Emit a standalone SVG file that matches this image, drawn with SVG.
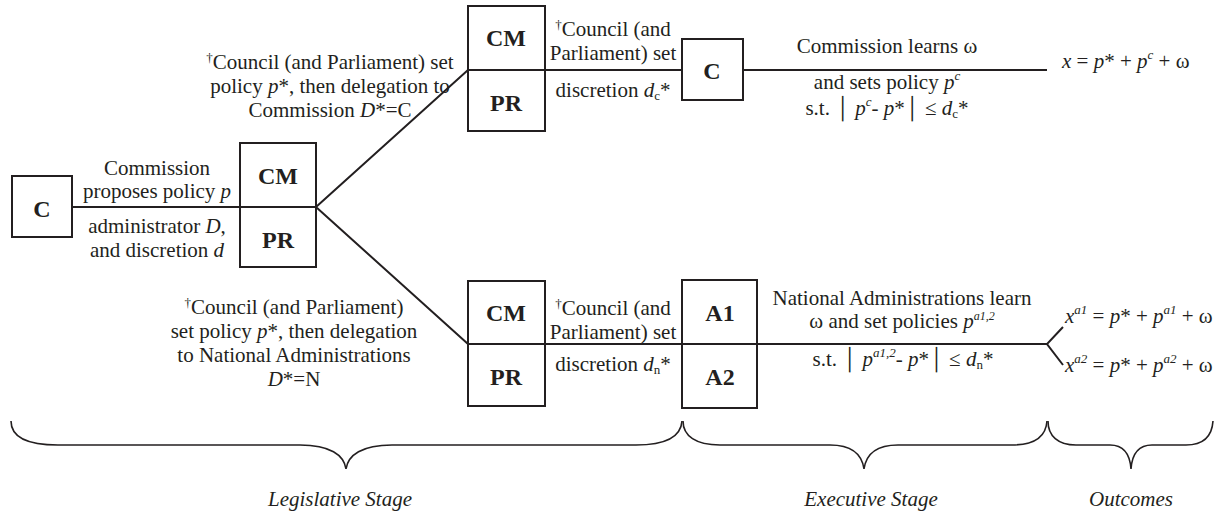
<svg xmlns="http://www.w3.org/2000/svg" width="1220" height="517" viewBox="0 0 1220 517">
<style>
text{font-family:"Liberation Serif","Times New Roman",serif;font-size:21px;fill:#231f20}
.m{text-anchor:middle}
.b{font-weight:bold;font-size:24px;text-anchor:middle}
.i{font-style:italic}
.box{fill:#fff;stroke:#231f20;stroke-width:2}
.ln{fill:none;stroke:#231f20;stroke-width:2}
.br{fill:none;stroke:#231f20;stroke-width:1.6}
.sup{font-size:13px}
.sm{font-size:12px}
</style>
<rect width="1220" height="517" fill="#fff"/>
<g id="connectors">
<path class="ln" d="M72 207H240M316 207L468 70M316 207L468 344M545 70H682M743 70H1047M545 344H682M757 344H1047M1063 327L1047 344L1063 365"/>
</g>
<g id="node-c-start">
<rect class="box" x="12" y="176" width="60" height="61"/>
<text class="b" x="42" y="217">C</text>
</g>
<g id="node-cmpr-1">
<rect class="box" x="240" y="143" width="76" height="124"/>
<line class="ln" x1="240" y1="207" x2="316" y2="207"/>
<text class="b" x="278" y="184">CM</text>
<text class="b" x="278" y="248">PR</text>
</g>
<g id="node-cmpr-top">
<rect class="box" x="468" y="6" width="77" height="125"/>
<line class="ln" x1="468" y1="70" x2="545" y2="70"/>
<text class="b" x="506" y="46">CM</text>
<text class="b" x="506" y="111">PR</text>
</g>
<g id="node-c-top">
<rect class="box" x="682" y="39" width="61" height="61"/>
<text class="b" x="712" y="79">C</text>
</g>
<g id="node-cmpr-bottom">
<rect class="box" x="468" y="281" width="77" height="125"/>
<line class="ln" x1="468" y1="344" x2="545" y2="344"/>
<text class="b" x="506" y="321">CM</text>
<text class="b" x="506" y="385">PR</text>
</g>
<g id="node-a1a2">
<rect class="box" x="682" y="280" width="75" height="128"/>
<line class="ln" x1="682" y1="344" x2="757" y2="344"/>
<text class="b" x="720" y="321">A1</text>
<text class="b" x="720" y="385">A2</text>
</g>
<g id="labels">
<text class="m" x="157" y="175">Commission</text>
<text class="m" x="157" y="198">proposes policy <tspan class="i">p</tspan></text>
<text class="m" x="157" y="233">administrator <tspan class="i">D</tspan>,</text>
<text class="m" x="157" y="257">and discretion <tspan class="i">d</tspan></text>

<text class="m" x="330" y="69"><tspan class="sup" dy="-7">†</tspan><tspan dy="7">Council (and Parliament) set</tspan></text>
<text class="m" x="330" y="93">policy <tspan class="i">p</tspan>*, then delegation to</text>
<text class="m" x="330" y="117">Commission <tspan class="i">D</tspan>*=C</text>

<text class="m" x="294" y="314"><tspan class="sup" dy="-7">†</tspan><tspan dy="7">Council (and Parliament)</tspan></text>
<text class="m" x="294" y="338">set policy <tspan class="i">p</tspan>*, then delegation</text>
<text class="m" x="294" y="362">to National Administrations</text>
<text class="m" x="294" y="386"><tspan class="i">D</tspan>*=N</text>

<text class="m" x="613" y="36"><tspan class="sup" dy="-7">†</tspan><tspan dy="7">Council (and</tspan></text>
<text class="m" x="613" y="60">Parliament) set</text>
<text class="m" x="613" y="97">discretion <tspan class="i">d</tspan><tspan class="sup" dy="3">c</tspan><tspan dy="-3">*</tspan></text>

<text class="m" x="613" y="315"><tspan class="sup" dy="-7">†</tspan><tspan dy="7">Council (and</tspan></text>
<text class="m" x="613" y="339">Parliament) set</text>
<text class="m" x="613" y="371">discretion <tspan class="i">d</tspan><tspan class="sup" dy="3">n</tspan><tspan dy="-3">*</tspan></text>

<text class="m" x="887" y="53">Commission learns ω</text>
<text class="m" x="887" y="89">and sets policy  <tspan class="i">p</tspan><tspan class="sup i" dy="-9">c</tspan></text>
<text class="m" x="887" y="115">s.t. │ <tspan class="i">p</tspan><tspan class="sup i" dy="-9">c</tspan><tspan dy="9">- </tspan><tspan class="i">p</tspan>*│ ≤ <tspan class="i">d</tspan><tspan class="sup" dy="3">c</tspan><tspan dy="-3">*</tspan></text>

<text x="1062" y="68"><tspan class="i">x</tspan> = <tspan class="i">p</tspan>* + <tspan class="i">p</tspan><tspan class="sup i" dy="-9">c</tspan><tspan dy="9"> + ω</tspan></text>

<text class="m" x="902" y="305">National Administrations learn</text>
<text class="m" x="902" y="328">ω and set policies <tspan class="i">p</tspan><tspan class="sm i" dy="-8">a1,2</tspan></text>
<text class="m" x="903" y="366">s.t. │ <tspan class="i">p</tspan><tspan class="sup i" dy="-9">a1,2</tspan><tspan dy="9">- </tspan><tspan class="i">p</tspan>*│ ≤ <tspan class="i">d</tspan><tspan class="sup" dy="3">n</tspan><tspan dy="-3">*</tspan></text>

<text x="1065" y="323"><tspan class="i">x</tspan><tspan class="sup i" dy="-9">a1</tspan><tspan dy="9"> = </tspan><tspan class="i">p</tspan>* + <tspan class="i">p</tspan><tspan class="sup i" dy="-9">a1</tspan><tspan dy="9"> + ω</tspan></text>
<text x="1065" y="372"><tspan class="i">x</tspan><tspan class="sup i" dy="-9">a2</tspan><tspan dy="9"> = </tspan><tspan class="i">p</tspan>* + <tspan class="i">p</tspan><tspan class="sup i" dy="-9">a2</tspan><tspan dy="9"> + ω</tspan></text>
</g>
<g id="braces">
<path class="br" d="M11 421C11 436 24 445 58 445H300C330 445 344 455 346 469C348 455 362 445 392 445H636C668 445 681 436 682 421"/>
<path class="br" d="M683 421C683 436 696 445 720 445H830C852 445 862 455 864 469C866 455 876 445 898 445H1012C1036 445 1046 436 1047 421"/>
<path class="br" d="M1048 421C1048 436 1058 445 1076 445H1110C1124 445 1130 455 1131 469C1132 455 1138 445 1152 445H1186C1204 445 1212 436 1213 421"/>
</g>
<g id="stage-labels">
<text class="m i" x="340" y="506">Legislative Stage</text>
<text class="m i" x="871" y="506">Executive Stage</text>
<text class="m i" x="1131" y="506">Outcomes</text>
</g>
</svg>
